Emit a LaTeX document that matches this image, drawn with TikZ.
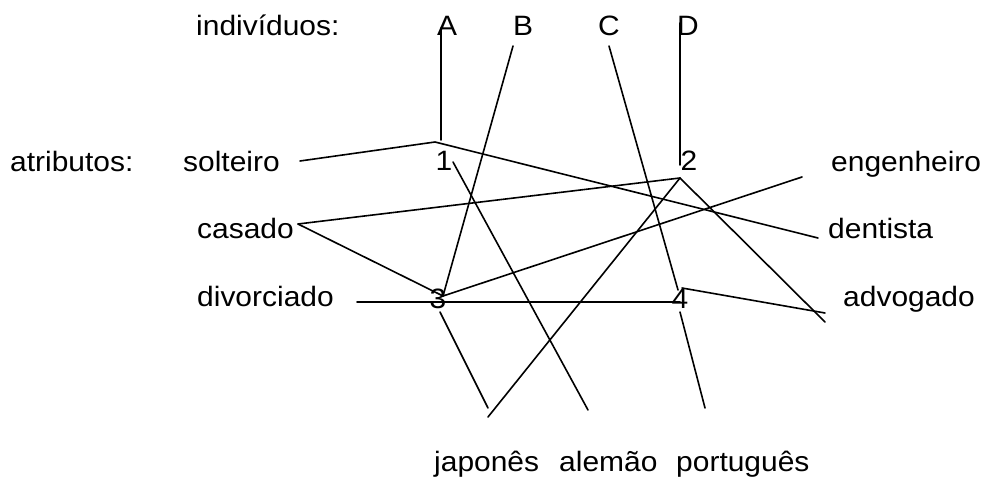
\documentclass[tikz,border=0pt]{standalone}
\usepackage{fontspec}
\setmainfont[FakeStretch=1.07]{Liberation Sans}
\begin{document}
\begin{tikzpicture}[x=1pt,y=-1pt,
  lbl/.style={inner sep=0pt,font=\fontsize{28}{32}\selectfont},
  lblw/.style={lbl,anchor=base west},
  lblc/.style={lbl,anchor=base},
  wire/.style={line width=1.6pt,line cap=round,line join=miter}]
\useasboundingbox (0,0) rectangle (984,478);

% headings and individuals
\node[lblw] (ind) at (196,36) {indivíduos:};
\node[lblc] (nA) at (447,36) {A};
\node[lblc] (nB) at (523,36) {B};
\node[lblc] (nC) at (609,36) {C};
\node[lblc] (nD) at (688,36) {D};

% attributes
\node[lblw] (atr) at (10,172) {atributos:};
\node[lblw] (sol) at (183,172) {solteiro};
\node[lblw] (cas) at (197,239) {casado};
\node[lblw] (div) at (197,306) {divorciado};
\node[lblw] (eng) at (831,172) {engenheiro};
\node[lblw] (den) at (828,239) {dentista};
\node[lblw] (adv) at (843,306) {advogado};
\node[lblw] (jap) at (434,471) {japonês};
\node[lblw] (ale) at (559,471) {alemão};
\node[lblw] (por) at (676,471) {português};

% numbered vertices
\node[lblc] (v1) at (444,171) {1};
\node[lblc] (v2) at (689,171) {2};
\node[lblc] (v3) at (438,308) {3};
\node[lblc] (v4) at (680,308) {4};

% connector end points
\coordinate (aTop) at (441,28);
\coordinate (aBot) at (441,140);
\coordinate (bTop) at (513,46);
\coordinate (cTop) at (609,46);
\coordinate (dTop) at (680,23);
\coordinate (dBot) at (680,165);
\coordinate (solR) at (300,161);
\coordinate (k1) at (435,142);
\coordinate (denL) at (818,238);
\coordinate (casR) at (298,224);
\coordinate (k2) at (680,178);
\coordinate (k3) at (443,296);
\coordinate (advA) at (825,322);
\coordinate (advB) at (825,313);
\coordinate (japA) at (488,417);
\coordinate (japB) at (488,408);
\coordinate (aleT) at (588,410);
\coordinate (porT) at (705,408);
\coordinate (engL) at (802,177);
\coordinate (one) at (453,162);
\coordinate (divR) at (357,302);
\coordinate (fourL) at (680,302);
\coordinate (threeB) at (440,312);
\coordinate (fourB) at (680,312);
\coordinate (fourT) at (678,290);
\coordinate (fourR) at (682,288);

% connectors
\draw[wire] (aTop) -- (aBot);
\draw[wire] (solR) -- (k1) -- (denL);
\draw[wire] (bTop) -- (k3);
\draw[wire] (cTop) -- (fourT);
\draw[wire] (dTop) -- (dBot);
\draw[wire] (casR) -- (k2);
\draw[wire] (casR) -- (k3);
\draw[wire] (k2) -- (advA);
\draw[wire] (k2) -- (japA);
\draw[wire] (k3) -- (engL);
\draw[wire] (one) -- (aleT);
\draw[wire] (divR) -- (fourL);
\draw[wire] (threeB) -- (japB);
\draw[wire] (fourB) -- (porT);
\draw[wire] (fourR) -- (advB);
\end{tikzpicture}
\end{document}
